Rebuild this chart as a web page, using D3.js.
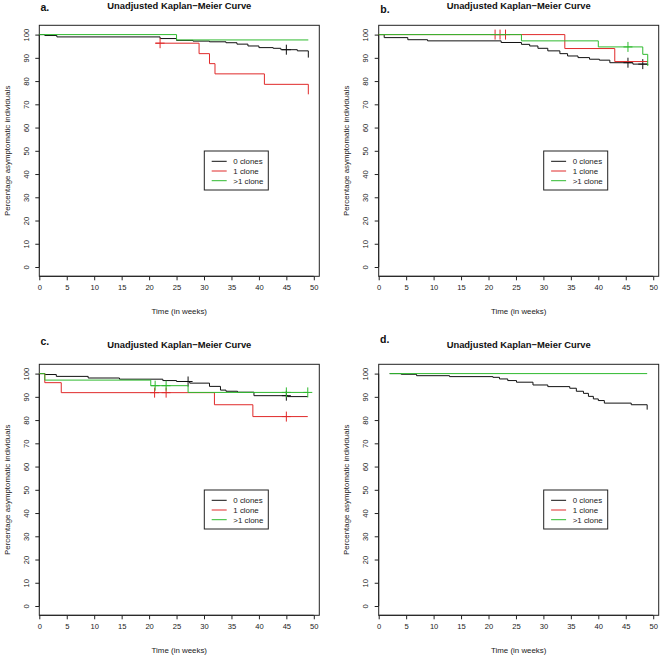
<!DOCTYPE html>
<html><head><meta charset="utf-8">
<script src="https://cdn.jsdelivr.net/npm/d3@7"></script>
<style>
body{margin:0;background:#fff;}
svg{display:block;font-family:"Liberation Sans",Arial,Helvetica,sans-serif;}
</style></head>
<body>
<svg id="c" width="662" height="657"></svg>
<script>
// ---- data ----
const timeTicks = [0,5,10,15,20,25,30,35,40,45,50];
const pctTicks = [0,10,20,30,40,50,60,70,80,90,100];
const groups = ["0 clones","1 clone",">1 clone"];
const groupColors = ["#111111","#e02a2a","#2fba2f"];
const panelLetters = ["a.","b.","c.","d."];
const titleText = "Unadjusted Kaplan\u2212Meier Curve";
const xLabel = "Time (in weeks)";
const yLabel = "Percentage asymptomatic individuals";

// Panel a
const aZero = [[0,100],[1,99.6],[3.2,99.0],[22,98.3],[25,97.5],[28,97.2],[31,96.9],[34,96.5],[36,95.9],[38,95.1],[40,94.4],[42.6,94.1],[44,93.5],[47,93.0],[49,90.1]];
const aOne  = [[21.1,96.3],[29.1,91.8],[31,87.5],[32,83.1],[41,78.6],[49,74.3]];
const aTwo  = [[0,100],[25,97.7],[49,97.7]];
const aZeroCens = [[45,93.5]];
const aOneCens  = [[22,96.3]];
const aTwoCens  = [];
// Panel b
const bZero = [[0,100],[1,98.7],[5.3,97.8],[8.9,97.3],[22.3,96.6],[26,95.8],[27.5,95.1],[29,94.1],[30.8,93.0],[33,91.8],[34.4,90.8],[36.3,90.1],[38.4,89.4],[40.2,89.0],[42.1,87.9],[46.3,87.3],[49,86.9]];
const bOne  = [[0,100],[33.9,94.0],[43,88.4],[49,88.4]];
const bTwo  = [[0,100],[26,97.3],[40,94.7],[48.1,91.5],[49,86.5]];
const bZeroCens = [[45.4,87.9],[48.1,87.3]];
const bOneCens  = [[21.2,100],[22.1,100],[23.1,100]];
const bTwoCens  = [[45.4,94.7]];
// Panel c
const cZero = [[0,100],[1,99.6],[3.1,98.8],[8.9,98.1],[14.6,97.6],[22.5,97.0],[25,96.6],[27.4,95.9],[31,94.5],[33,92.9],[34,92.4],[36.1,92.0],[39.1,90.5],[45.2,90.1],[48.9,90.1]];
const cOne  = [[0,100],[1,96.1],[4,91.8],[31.9,86.6],[38.9,81.5],[48.9,81.5]];
const cTwo  = [[0,100],[1,97.2],[20.3,94.8],[27.1,91.9],[48.9,91.9]];
const cZeroCens = [[27.1,96.6],[45,90.5]];
const cOneCens  = [[21,91.8],[23.1,91.8],[45,81.5]];
const cTwoCens  = [[21.1,94.8],[23.1,94.8],[45,91.9],[48.9,91.9]];
// Panel d
const dZero = [[2,100],[4.1,99.7],[6.9,99.1],[12.9,98.7],[20.8,98.4],[22,97.7],[23.5,97.0],[25.1,96.3],[28.1,95.1],[30.8,94.4],[34.8,93.7],[36,92.4],[37.3,91.5],[38.2,90.2],[39.1,89.1],[40,88.4],[41.1,87.3],[46,86.6],[48.9,84.5]];
const dOne  = [];
const dTwo  = [[2,100],[48.9,100]];
const dZeroCens = [], dOneCens = [], dTwoCens = [];

const panels = [
  {curves:[aZero,aOne,aTwo], cens:[aZeroCens,aOneCens,aTwoCens]},
  {curves:[bZero,bOne,bTwo], cens:[bZeroCens,bOneCens,bTwoCens]},
  {curves:[cZero,cOne,cTwo], cens:[cZeroCens,cOneCens,cTwoCens]},
  {curves:[dZero,dOne,dTwo], cens:[dZeroCens,dOneCens,dTwoCens]}
];

// ---- layout ----
const boxLefts = [39.3, 378.7, 39.3, 378.7];
const boxTops  = [25.3, 25.3, 364.3, 364.3];
const boxW = 280, boxH = 251;
const letterPos = [[40.5,10.8],[380.3,13.3],[40.5,345],[380,342.8]];

const svg = d3.select("#c");

panels.forEach((p, i) => {
  const L = boxLefts[i], T = boxTops[i];
  const x = d3.scaleLinear().domain([0,51]).range([L, L+boxW]);
  const y = d3.scaleLinear().domain([-4,104]).range([T+boxH, T]);
  const g = svg.append("g");

  // x axis
  const xa = g.append("g").attr("transform",`translate(0,${T+boxH})`)
    .call(d3.axisBottom(x).tickValues(timeTicks).tickSize(4).tickPadding(4).tickFormat(d3.format("d")));
  xa.select(".domain").remove();
  xa.selectAll("line").attr("stroke","#222");
  xa.selectAll("text").attr("font-size",7.6).attr("fill","#222").attr("dy","0.75em");
  xa.append("line").attr("x1",x(0)).attr("x2",x(50)).attr("stroke","#222");

  // y axis
  const ya = g.append("g").attr("transform",`translate(${L},0)`)
    .call(d3.axisLeft(y).tickValues(pctTicks).tickSize(4).tickFormat(d3.format("d")));
  ya.select(".domain").remove();
  ya.selectAll("line").attr("stroke","#222");
  ya.selectAll("text").attr("font-size",7.6).attr("fill","#222")
    .attr("x",null).attr("dy",null).attr("text-anchor","middle")
    .attr("transform","translate(-10.5,0) rotate(-90)");
  ya.append("line").attr("y1",y(0)).attr("y2",y(100)).attr("stroke","#222");

  // frame
  g.append("rect").attr("x",L).attr("y",T).attr("width",boxW).attr("height",boxH)
    .attr("fill","none").attr("stroke","#222").attr("stroke-width",1);

  // titles
  g.append("text").attr("x",L+boxW/2).attr("y",T-16).attr("text-anchor","middle")
    .attr("font-size",9.4).attr("font-weight","bold").attr("fill","#111").text(titleText);
  g.append("text").attr("x",letterPos[i][0]).attr("y",letterPos[i][1])
    .attr("font-size",10.5).attr("font-weight","bold").attr("fill","#111").text(panelLetters[i]);
  g.append("text").attr("x",L+boxW/2).attr("y",T+boxH+37.5).attr("text-anchor","middle")
    .attr("font-size",7.9).attr("fill","#222").text(xLabel);
  g.append("text").attr("transform",`translate(${L-29.5},${T+boxH/2}) rotate(-90)`)
    .attr("text-anchor","middle").attr("font-size",7.9).attr("fill","#222").text(yLabel);

  // curves
  const line = d3.line().x(d=>x(d[0])).y(d=>y(d[1])).curve(d3.curveStepAfter);
  p.curves.forEach((c, k) => {
    if (!c.length) return;
    g.append("path").attr("d", line(c)).attr("fill","none")
      .attr("stroke", groupColors[k]).attr("stroke-width",1);
    p.cens[k].forEach(m => {
      const cx = x(m[0]), cy = y(m[1]);
      g.append("path").attr("d",`M${cx-4.5},${cy}H${cx+4.5}M${cx},${cy-5}V${cy+5}`)
        .attr("stroke",groupColors[k]).attr("stroke-width",1).attr("fill","none");
    });
  });

  // legend
  const lg = g.append("g").attr("transform",`translate(${L+165},${T+125.7})`);
  lg.append("rect").attr("width",64).attr("height",39).attr("fill","#fff")
    .attr("stroke","#222").attr("stroke-width",1);
  groups.forEach((name, k) => {
    const ry = 10.3 + k*9.7;
    lg.append("line").attr("x1",7.4).attr("x2",22.4).attr("y1",ry).attr("y2",ry)
      .attr("stroke",groupColors[k]).attr("stroke-width",1);
    lg.append("text").attr("x",29).attr("y",ry+2.9).attr("font-size",7.9)
      .attr("fill","#222").text(name);
  });
});
</script>
</body></html>
